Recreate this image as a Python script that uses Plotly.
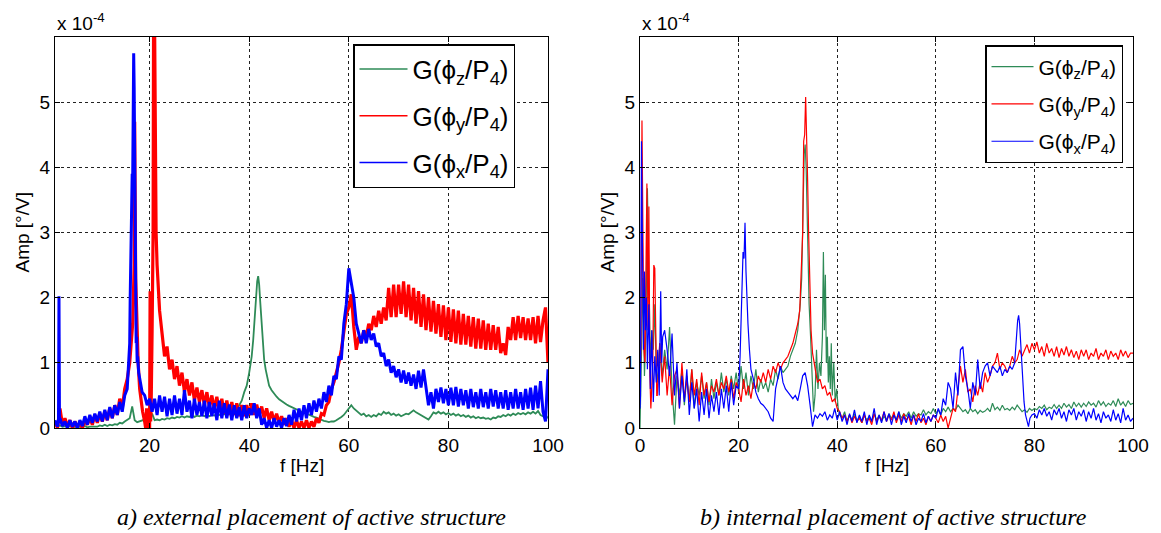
import numpy as np
import plotly.graph_objects as go

# ---------------- data (amplitudes in units of 1e-4 deg/V) ----------------
# Left panel (external placement): base grid 1.0 .. 100.0 Hz, step 0.5 Hz
LEFT_F = np.round(np.arange(1.0, 100.001, 0.5), 2)

left_green = [
    0.05, 0.02, 0.04, 0.02, 0.03, 0.01, 0.03, 0.01, 0.02, 0.01,
    0.02, 0.01, 0.03, 0.01, 0.02, 0.02, 0.03, 0.02, 0.04, 0.03,
    0.05, 0.03, 0.05, 0.04, 0.06, 0.05, 0.08, 0.07, 0.10, 0.12,
    0.15, 0.33, 0.12, 0.09, 0.10, 0.12, 0.13, 0.10, 0.12, 0.22,
    0.12, 0.13, 0.12, 0.14, 0.13, 0.15, 0.14, 0.16, 0.15, 0.17,
    0.16, 0.18, 0.16, 0.18, 0.17, 0.19, 0.17, 0.19, 0.18, 0.20,
    0.18, 0.20, 0.18, 0.20, 0.19, 0.21, 0.20, 0.22, 0.21, 0.23,
    0.22, 0.25, 0.27, 0.30, 0.35, 0.42, 0.55, 0.65, 0.85, 1.10,
    1.60, 2.30, 2.10, 1.40, 1.00, 0.78, 0.65, 0.58, 0.52, 0.48,
    0.44, 0.41, 0.38, 0.36, 0.34, 0.32, 0.30, 0.28, 0.26, 0.25,
    0.24, 0.22, 0.20, 0.19, 0.17, 0.16, 0.14, 0.12, 0.11, 0.10,
    0.09, 0.10, 0.10, 0.12, 0.14, 0.17, 0.20, 0.25, 0.30, 0.35,
    0.30, 0.27, 0.24, 0.20, 0.22, 0.18, 0.20, 0.17, 0.20, 0.18,
    0.22, 0.20, 0.25, 0.22, 0.24, 0.20, 0.22, 0.19, 0.21, 0.18,
    0.20, 0.22, 0.21, 0.24, 0.27, 0.24, 0.22, 0.20, 0.18, 0.15,
    0.13, 0.18, 0.24, 0.22, 0.25, 0.22, 0.24, 0.21, 0.23, 0.20,
    0.22, 0.19, 0.21, 0.18, 0.20, 0.17, 0.19, 0.16, 0.18, 0.15,
    0.17, 0.15, 0.16, 0.14, 0.15, 0.13, 0.16, 0.15, 0.18, 0.17,
    0.20, 0.18, 0.21, 0.19, 0.22, 0.20, 0.23, 0.21, 0.23, 0.21,
    0.24, 0.22, 0.25, 0.22, 0.26, 0.20, 0.18, 0.20, 0.15,
]
left_green_peak_f = [40.5, 40.8, 41.0, 41.2, 41.4, 41.6, 41.8, 42.0, 42.2, 42.4, 42.6, 42.8, 43.0, 43.3, 43.6]
left_green_peak_v = [1.10, 1.35, 1.60, 1.85, 2.10, 2.25, 2.33, 2.20, 1.95, 1.70, 1.45, 1.25, 1.05, 0.90, 0.78]

left_red = [
    0.10, 0.00, 0.30, 0.05, 0.15, 0.02, 0.12, 0.00, 0.10, 0.02,
    0.08, 0.00, 0.12, 0.05, 0.15, 0.05, 0.20, 0.08, 0.22, 0.10,
    0.25, 0.12, 0.30, 0.15, 0.35, 0.20, 0.45, 0.30, 0.60, 0.75,
    1.00, 2.00, 4.70, 1.50, 0.60, 0.25, 0.10, 0.00, 0.00, 1.50,
    6.20, 2.50, 1.80, 1.45, 1.10, 1.25, 0.90, 1.05, 0.75, 0.95,
    0.65, 0.85, 0.55, 0.75, 0.50, 0.70, 0.42, 0.62, 0.40, 0.58,
    0.35, 0.55, 0.32, 0.50, 0.28, 0.48, 0.25, 0.45, 0.22, 0.42,
    0.20, 0.40, 0.20, 0.38, 0.18, 0.35, 0.18, 0.35, 0.20, 0.38,
    0.20, 0.36, 0.20, 0.33, 0.15, 0.30, 0.12, 0.25, 0.10, 0.22,
    0.08, 0.18, 0.05, 0.15, 0.02, 0.12, 0.00, 0.12, 0.00, 0.10,
    0.00, 0.12, 0.00, 0.10, 0.02, 0.15, 0.08, 0.22, 0.20, 0.35,
    0.40, 0.60, 0.70, 0.85, 1.00, 1.20, 1.50, 1.75, 1.85, 2.05,
    1.55, 1.20, 1.40, 1.30, 1.50, 1.40, 1.60, 1.50, 1.72, 1.55,
    1.80, 1.60, 1.85, 1.65, 2.15, 1.70, 2.20, 1.70, 2.20, 1.75,
    2.25, 1.70, 2.20, 1.65, 2.15, 1.60, 2.10, 1.55, 2.05, 1.50,
    2.00, 1.48, 1.95, 1.45, 1.90, 1.40, 1.88, 1.35, 1.85, 1.32,
    1.82, 1.30, 1.80, 1.28, 1.75, 1.28, 1.72, 1.25, 1.70, 1.22,
    1.68, 1.22, 1.65, 1.20, 1.60, 1.20, 1.58, 1.20, 1.55, 1.15,
    1.30, 1.12, 1.55, 1.35, 1.70, 1.35, 1.72, 1.38, 1.70, 1.35,
    1.68, 1.35, 1.70, 1.30, 1.72, 1.32, 1.65, 1.85, 1.00,
]
left_red_peak_f = [16.0, 16.3, 16.6, 16.9, 17.0, 17.1, 17.2, 17.3, 17.5, 17.7, 18.0, 18.3, 18.6,
                   19.0, 19.2, 19.4, 19.6, 19.8, 20.0, 20.1, 20.2, 20.3, 20.5, 20.7, 20.8, 20.9,
                   21.0, 21.1, 21.2, 21.3, 21.5, 21.7, 22.0]
left_red_peak_v = [1.00, 1.40, 1.60, 2.50, 4.70, 3.50, 2.30, 2.00, 1.50, 1.00, 0.60, 0.40, 0.25,
                   0.10, 0.00, 0.30, 0.00, 0.05, 0.00, 2.10, 0.10, 0.30, 1.50, 3.00, 6.50, 6.50,
                   6.20, 5.00, 4.10, 3.00, 2.50, 2.10, 1.80]

left_blue = [
    0.12, 0.02, 0.15, 0.03, 0.10, 0.00, 0.12, 0.02, 0.10, 0.00,
    0.12, 0.03, 0.18, 0.05, 0.20, 0.08, 0.22, 0.10, 0.25, 0.10,
    0.28, 0.12, 0.32, 0.15, 0.35, 0.20, 0.40, 0.25, 0.50, 0.60,
    1.30, 3.90, 4.00, 1.00, 0.75, 0.55, 0.50, 0.35, 0.45, 0.25,
    0.45, 0.20, 0.50, 0.25, 0.48, 0.18, 0.45, 0.20, 0.50, 0.22,
    0.45, 0.20, 0.58, 0.25, 0.42, 0.15, 0.45, 0.20, 0.40, 0.18,
    0.42, 0.15, 0.40, 0.18, 0.38, 0.12, 0.42, 0.15, 0.38, 0.15,
    0.36, 0.12, 0.35, 0.15, 0.32, 0.12, 0.35, 0.15, 0.30, 0.20,
    0.38, 0.15, 0.30, 0.05, 0.15, 0.00, 0.12, 0.00, 0.15, 0.02,
    0.12, 0.00, 0.15, 0.03, 0.20, 0.05, 0.28, 0.10, 0.30, 0.12,
    0.35, 0.15, 0.38, 0.20, 0.42, 0.25, 0.45, 0.30, 0.55, 0.40,
    0.65, 0.50, 0.80, 0.75, 1.10, 1.05, 1.60, 1.90, 2.45, 2.20,
    2.00, 1.60, 1.45, 1.30, 1.50, 1.30, 1.52, 1.35, 1.45, 1.25,
    1.30, 1.10, 1.15, 0.95, 1.05, 0.85, 0.95, 0.78, 0.90, 0.70,
    0.88, 0.68, 0.85, 0.65, 0.82, 0.60, 0.88, 0.62, 0.90, 0.65,
    0.35, 0.55, 0.30, 0.60, 0.40, 0.62, 0.38, 0.60, 0.35, 0.62,
    0.35, 0.63, 0.33, 0.60, 0.35, 0.58, 0.30, 0.60, 0.32, 0.55,
    0.30, 0.60, 0.32, 0.55, 0.30, 0.60, 0.33, 0.58, 0.30, 0.55,
    0.30, 0.58, 0.28, 0.55, 0.30, 0.60, 0.30, 0.55, 0.28, 0.60,
    0.30, 0.62, 0.28, 0.65, 0.30, 0.72, 0.25, 0.10, 0.90,
]
left_blue_spike_f = [1.7, 1.8, 1.9]
left_blue_spike_v = [0.10, 2.02, 0.10]
left_blue_peak_f = [15.6, 15.8, 16.0, 16.1, 16.2, 16.3, 16.4, 16.5, 16.6, 16.7, 16.8, 16.9, 17.0,
                    17.1, 17.2, 17.3, 17.4, 17.5, 17.6, 17.8]
left_blue_peak_v = [0.80, 1.00, 1.30, 2.00, 2.70, 2.60, 3.30, 3.90, 3.80, 5.00, 5.75, 5.20, 4.00,
                    3.00, 1.80, 1.30, 1.40, 1.00, 1.10, 0.85]

# Right panel (internal placement): base grid 0.0 .. 100.0 Hz, step 0.5 Hz
RIGHT_F = np.round(np.arange(0.0, 100.001, 0.5), 2)

right_green = [
    0.00, 2.30, 1.00, 3.68, 1.50, 1.20, 1.90, 0.70, 1.30, 0.80,
    1.20, 0.90, 1.55, 0.60, 0.05, 0.80, 0.50, 0.90, 0.35, 0.80,
    0.40, 0.90, 0.30, 0.70, 0.50, 0.80, 0.45, 0.70, 0.35, 0.75,
    0.45, 0.70, 0.50, 0.85, 0.55, 0.75, 0.50, 0.80, 0.60, 0.85,
    0.55, 0.95, 0.60, 0.85, 0.50, 0.80, 0.60, 0.90, 0.55, 0.75,
    0.60, 0.70, 0.55, 0.75, 0.65, 0.90, 0.75, 0.95, 0.85, 0.90,
    0.95, 1.10, 1.20, 1.30, 1.50, 1.90, 4.20, 4.00, 2.50, 1.90,
    0.80, 0.50, 0.60, 0.80, 1.40, 1.50, 1.40, 1.10, 0.50, 0.40,
    0.60, 0.20, 0.15, 0.25, 0.10, 0.20, 0.12, 0.22, 0.10, 0.18,
    0.08, 0.20, 0.12, 0.18, 0.10, 0.22, 0.12, 0.20, 0.10, 0.18,
    0.12, 0.22, 0.15, 0.20, 0.12, 0.25, 0.15, 0.22, 0.18, 0.25,
    0.15, 0.25, 0.18, 0.22, 0.20, 0.28, 0.20, 0.25, 0.22, 0.30,
    0.22, 0.28, 0.20, 0.30, 0.25, 0.32, 0.25, 0.30, 0.28, 0.35,
    0.30, 0.25, 0.28, 0.22, 0.30, 0.25, 0.28, 0.22, 0.27, 0.24,
    0.26, 0.30, 0.25, 0.38, 0.28, 0.32, 0.27, 0.35, 0.28, 0.30,
    0.27, 0.32, 0.28, 0.35, 0.30, 0.25, 0.28, 0.24, 0.30, 0.27,
    0.30, 0.28, 0.33, 0.30, 0.35, 0.28, 0.32, 0.30, 0.36, 0.30,
    0.35, 0.30, 0.38, 0.32, 0.36, 0.30, 0.40, 0.33, 0.38, 0.32,
    0.38, 0.33, 0.40, 0.35, 0.38, 0.32, 0.42, 0.35, 0.40, 0.33,
    0.38, 0.35, 0.42, 0.33, 0.45, 0.35, 0.40, 0.33, 0.42, 0.36,
    0.38,
]
right_green_lowf = [0.0, 0.3, 0.6, 0.9, 1.2, 1.5, 1.8, 2.1, 2.4, 2.7, 3.0, 3.3, 3.6]
right_green_lowv = [0.00, 1.20, 2.30, 0.80, 1.50, 3.68, 2.00, 1.00, 1.50, 1.20, 1.90, 0.90, 0.70]
right_green_peak_f = [31.5, 32.0, 32.5, 32.8, 33.1, 33.3, 33.5, 33.7, 33.9, 34.1, 34.3, 34.6, 34.9,
                      35.2, 35.5, 35.8, 36.1, 36.4, 36.7, 37.0, 37.2, 37.4, 37.6, 37.8, 38.0, 38.2,
                      38.4, 38.6, 38.8, 39.0, 39.3, 39.6, 39.9, 40.2, 40.5]
right_green_peak_v = [1.30, 1.50, 1.90, 2.30, 3.30, 4.20, 4.35, 4.00, 3.30, 2.50, 1.90, 1.40, 0.80,
                      0.25, 0.50, 1.20, 0.60, 1.00, 0.80, 1.40, 2.70, 1.50, 2.35, 1.00, 1.40, 0.70,
                      1.10, 0.60, 1.30, 0.50, 1.00, 0.40, 0.60, 0.30, 0.20]

right_red = [
    0.50, 4.70, 1.00, 1.50, 0.80, 1.50, 2.50, 0.50, 1.30, 0.70,
    1.10, 0.50, 0.95, 0.35, 0.80, 0.90, 0.30, 1.00, 0.45, 0.75,
    0.40, 0.90, 0.50, 0.75, 0.35, 0.85, 0.50, 0.70, 0.40, 0.65,
    0.55, 0.75, 0.50, 0.70, 0.60, 0.80, 0.55, 0.75, 0.45, 0.70,
    0.60, 0.40, 0.75, 0.50, 0.65, 0.45, 0.70, 0.60, 0.80, 0.70,
    0.85, 0.70, 0.90, 0.75, 0.95, 0.85, 1.00, 0.90, 1.00, 1.05,
    1.10, 1.20, 1.30, 1.45, 1.60, 1.80, 3.00, 4.50, 4.00, 2.50,
    1.15, 0.95, 0.70, 0.75, 0.60, 0.65, 0.50, 0.55, 0.40, 0.45,
    0.30, 0.25, 0.15, 0.20, 0.10, 0.20, 0.08, 0.18, 0.10, 0.15,
    0.08, 0.20, 0.10, 0.15, 0.05, 0.22, 0.10, 0.18, 0.12, 0.25,
    0.10, 0.20, 0.12, 0.25, 0.08, 0.20, 0.10, 0.22, 0.12, 0.18,
    0.05, 0.20, 0.10, 0.22, 0.08, 0.15, 0.05, 0.18, 0.10, 0.20,
    0.15, 0.08, 0.20, 0.10, 0.18, 0.00, 0.15, 0.30, 0.25, 0.60,
    0.95, 0.70, 0.90, 0.55, 0.60, 0.40, 0.65, 0.50, 0.70, 0.55,
    0.85, 0.70, 0.80, 0.95, 1.00, 1.15, 0.90, 1.00, 0.95, 0.85,
    0.95, 1.10, 1.00, 1.05, 1.20, 1.10, 1.20, 1.28, 1.15, 1.30,
    1.20, 1.32, 1.15, 1.25, 1.10, 1.30, 1.15, 1.22, 1.10, 1.25,
    1.08, 1.22, 1.12, 1.25, 1.10, 1.20, 1.08, 1.18, 1.05, 1.20,
    1.10, 1.20, 1.05, 1.15, 1.10, 1.22, 1.05, 1.15, 1.10, 1.20,
    1.05, 1.18, 1.10, 1.15, 1.05, 1.20, 1.10, 1.18, 1.08, 1.15,
    1.15,
]
right_red_lowf = [0.2, 0.4, 0.6, 0.8, 1.0, 1.2, 1.4, 1.6, 1.8, 2.0, 2.2, 2.6, 2.8, 3.0, 3.2, 3.4]
right_red_lowv = [1.50, 4.72, 2.50, 1.20, 1.00, 2.50, 3.75, 1.50, 3.40, 0.80, 0.30, 1.00, 2.50, 2.45, 1.00, 0.50]
right_red_peak_f = [32.4, 32.7, 33.0, 33.2, 33.4, 33.6, 33.8, 34.0, 34.2, 34.4, 34.7, 35.0]
right_red_peak_v = [1.80, 2.30, 3.00, 4.40, 4.50, 5.08, 4.60, 3.80, 3.00, 2.20, 1.50, 1.15]

right_blue = [
    0.30, 3.00, 1.50, 0.80, 1.90, 0.50, 1.50, 0.70, 2.10, 1.00,
    1.50, 1.20, 0.80, 1.45, 0.50, 1.00, 0.30, 0.80, 0.40, 0.90,
    0.20, 0.70, 0.30, 0.60, 0.10, 0.55, 0.20, 0.60, 0.15, 0.50,
    0.25, 0.55, 0.20, 0.60, 0.30, 0.65, 0.25, 0.70, 0.35, 0.65,
    0.60, 1.80, 2.70, 2.40, 1.60, 0.90, 0.75, 0.55, 0.45, 0.38,
    0.35, 0.30, 0.25, 0.15, 0.10, 0.60, 0.80, 0.95, 0.70, 0.60,
    0.55, 0.50, 0.45, 0.50, 0.42, 0.60, 0.80, 0.85, 0.65, 0.35,
    0.02, 0.20, 0.15, 0.22, 0.18, 0.25, 0.12, 0.20, 0.15, 0.30,
    0.12, 0.25, 0.10, 0.20, 0.05, 0.22, 0.10, 0.28, 0.08, 0.20,
    0.10, 0.25, 0.05, 0.20, 0.10, 0.30, 0.05, 0.20, 0.08, 0.25,
    0.10, 0.22, 0.05, 0.20, 0.12, 0.25, 0.05, 0.18, 0.08, 0.22,
    0.10, 0.20, 0.05, 0.15, 0.10, 0.22, 0.08, 0.18, 0.10, 0.20,
    0.15, 0.30, 0.20, 0.45, 0.35, 0.70, 0.60, 0.30, 0.85, 0.50,
    1.20, 1.25, 0.80, 0.60, 0.30, 0.70, 0.50, 1.05, 0.60, 0.85,
    0.95, 1.00, 0.80, 0.95, 0.90, 0.85, 0.95, 0.80, 0.90, 0.85,
    0.95, 0.90, 1.40, 1.70, 1.60, 0.70, 0.20, 0.10, 0.10, 0.20,
    0.22, 0.15, 0.28, 0.20, 0.30, 0.18, 0.25, 0.12, 0.28, 0.20,
    0.30, 0.15, 0.25, 0.10, 0.28, 0.20, 0.30, 0.12, 0.25, 0.18,
    0.28, 0.10, 0.25, 0.15, 0.30, 0.12, 0.22, 0.08, 0.25, 0.15,
    0.20, 0.10, 0.28, 0.12, 0.22, 0.08, 0.30, 0.12, 0.20, 0.10,
    0.15,
]
right_blue_lowf = [0.1, 0.3, 0.5, 0.7, 0.9, 1.1, 1.3, 1.5, 1.8, 2.1, 2.4, 2.7, 3.0, 3.3, 3.6, 3.9, 4.2, 4.4, 4.6]
right_blue_lowv = [0.50, 4.40, 3.00, 1.20, 2.40, 1.50, 2.00, 0.90, 1.90, 0.60, 1.50, 0.40, 1.10, 0.70, 1.20, 0.50, 2.10, 1.00, 1.40]
right_blue_peak_f = [20.0, 20.3, 20.6, 20.9, 21.1, 21.3, 21.5, 21.7, 21.9, 22.2, 22.5]
right_blue_peak_v = [0.60, 1.10, 1.80, 2.70, 2.60, 3.15, 2.40, 1.90, 1.60, 1.20, 0.90]
right_blue_drop_f = [76.0, 76.3, 76.6, 76.8, 77.0, 77.3, 77.6, 77.9, 78.2, 78.5, 78.8, 79.1]
right_blue_drop_v = [1.00, 1.40, 1.65, 1.73, 1.60, 1.20, 0.70, 0.40, 0.20, 0.10, 0.02, 0.15]

Y_TICKS = [0, 1, 2, 3, 4, 5]
LEFT_X_TICKS = [20, 40, 60, 80, 100]
RIGHT_X_TICKS = [0, 20, 40, 60, 80, 100]
NAMES = ["G(ϕ<sub>z</sub>/P<sub>4</sub>)", "G(ϕ<sub>y</sub>/P<sub>4</sub>)", "G(ϕ<sub>x</sub>/P<sub>4</sub>)"]
CAPTIONS = ["a) external placement of active structure", "b) internal placement of active structure"]


def merge(base_f, base_v, segments):
    f = np.asarray(base_f, dtype=float)
    v = np.asarray(base_v, dtype=float)
    assert len(f) == len(v), (len(f), len(v))
    for sf, sv in segments:
        assert len(sf) == len(sv)
        keep = (f < min(sf)) | (f > max(sf))
        f = np.concatenate([f[keep], sf])
        v = np.concatenate([v[keep], sv])
    o = np.argsort(f, kind="stable")
    return f[o], v[o]


GREEN, RED, BLUE = "#2e8b57", "#ff0000", "#0000ff"
COLORS = [GREEN, RED, BLUE]
FONT = "Liberation Sans, Arial, sans-serif"

fig = go.Figure()

left_series = [
    (merge(LEFT_F, left_green, [(left_green_peak_f, left_green_peak_v)]), 1.8),
    (merge(LEFT_F, left_red, [(left_red_peak_f, left_red_peak_v)]), 3.2),
    (merge(LEFT_F, left_blue, [(left_blue_spike_f, left_blue_spike_v),
                               (left_blue_peak_f, left_blue_peak_v)]), 3.0),
]
for i, ((fx, vy), lw) in enumerate(left_series):
    fig.add_trace(go.Scatter(x=fx, y=vy, mode="lines", name=NAMES[i], showlegend=False,
                             line=dict(color=COLORS[i], width=lw), legendgroup=f"L{i}",
                             xaxis="x", yaxis="y"))

right_series = [
    merge(RIGHT_F, right_green, [(right_green_lowf, right_green_lowv),
                                 (right_green_peak_f, right_green_peak_v)]),
    merge(RIGHT_F, right_red, [(right_red_lowf, right_red_lowv),
                               (right_red_peak_f, right_red_peak_v)]),
    merge(RIGHT_F, right_blue, [(right_blue_lowf, right_blue_lowv),
                                (right_blue_peak_f, right_blue_peak_v),
                                (right_blue_drop_f, right_blue_drop_v)]),
]
for i, (fx, vy) in enumerate(right_series):
    fig.add_trace(go.Scatter(x=fx, y=vy, mode="lines", name=NAMES[i], showlegend=False,
                             line=dict(color=COLORS[i], width=1.2), legendgroup=f"R{i}",
                             xaxis="x2", yaxis="y2"))

# legend keys (thin sample lines as in the original legends)
for i in range(3):
    fig.add_trace(go.Scatter(x=[None], y=[None], mode="lines", name=NAMES[i],
                             line=dict(color=COLORS[i], width=1.5), legendgroup=f"L{i}",
                             xaxis="x", yaxis="y", legend="legend"))
for i in range(3):
    fig.add_trace(go.Scatter(x=[None], y=[None], mode="lines", name=NAMES[i],
                             line=dict(color=COLORS[i], width=1.2), legendgroup=f"R{i}",
                             xaxis="x2", yaxis="y2", legend="legend2"))

W, H = 1161, 533
L0, L1 = 55 / W, 548 / W
R0, R1 = 640 / W, 1133 / W
YB, YT = 1 - 428 / H, 1 - 37 / H

axis_common = dict(showline=True, linecolor="black", linewidth=1, mirror="allticks",
                   ticks="inside", ticklen=5, tickcolor="black", automargin=False,
                   showgrid=True, gridcolor="#222", griddash="dot", gridwidth=1,
                   zeroline=False, tickfont=dict(family=FONT, size=19, color="black"))

fig.update_layout(
    width=W, height=H, margin=dict(l=0, r=0, t=0, b=0, autoexpand=False),
    paper_bgcolor="white", plot_bgcolor="white",
    xaxis=dict(domain=[L0, L1], range=[1.0, 100], tickvals=LEFT_X_TICKS, anchor="y", **axis_common),
    yaxis=dict(domain=[YB, YT], range=[0, 6], tickvals=Y_TICKS, anchor="x", **axis_common),
    xaxis2=dict(domain=[R0, R1], range=[0, 100], tickvals=RIGHT_X_TICKS, anchor="y2", **axis_common),
    yaxis2=dict(domain=[YB, YT], range=[0, 6], tickvals=Y_TICKS, anchor="x2", **axis_common),
    legend=dict(x=353 / W, y=1 - 44 / H, xanchor="left", yanchor="top",
                bgcolor="white", bordercolor="black", borderwidth=1.5,
                traceorder="grouped", tracegroupgap=10, itemwidth=48,
                font=dict(family=FONT, size=26, color="black")),
    legend2=dict(x=985 / W, y=1 - 45 / H, xanchor="left", yanchor="top",
                 bgcolor="white", bordercolor="black", borderwidth=1.5,
                 traceorder="grouped", tracegroupgap=7, itemwidth=42,
                 font=dict(family=FONT, size=21, color="black")),
    showlegend=True,
)

ann = []
for x0, x1 in [(L0, L1), (R0, R1)]:
    ann.append(dict(x=x0, y=1 - 22 / H, xref="paper", yref="paper", xanchor="left", yanchor="middle",
                    text="x 10<sup>-4</sup>", showarrow=False,
                    font=dict(family=FONT, size=19, color="black")))
    ann.append(dict(x=(x0 + x1) / 2, y=1 - 465 / H, xref="paper", yref="paper",
                    xanchor="center", yanchor="middle", text="f [Hz]", showarrow=False,
                    font=dict(family=FONT, size=19, color="black")))
    ann.append(dict(x=x0 - 33 / W, y=(YB + YT) / 2, xref="paper", yref="paper",
                    xanchor="center", yanchor="middle", text="Amp [°/V]", textangle=-90,
                    showarrow=False, font=dict(family=FONT, size=19, color="black")))
ann.append(dict(x=311 / W, y=1 - 517 / H, xref="paper", yref="paper", xanchor="center", yanchor="middle",
                text="<i>" + CAPTIONS[0] + "</i>", showarrow=False,
                font=dict(family="Liberation Serif, serif", size=24, color="black")))
ann.append(dict(x=893 / W, y=1 - 517 / H, xref="paper", yref="paper", xanchor="center", yanchor="middle",
                text="<i>" + CAPTIONS[1] + "</i>", showarrow=False,
                font=dict(family="Liberation Serif, serif", size=24, color="black")))
fig.update_layout(annotations=ann)

fig.write_html("out.html", config={"displayModeBar": False},
               post_script="document.body.style.margin='0px';document.body.style.padding='0px';")
